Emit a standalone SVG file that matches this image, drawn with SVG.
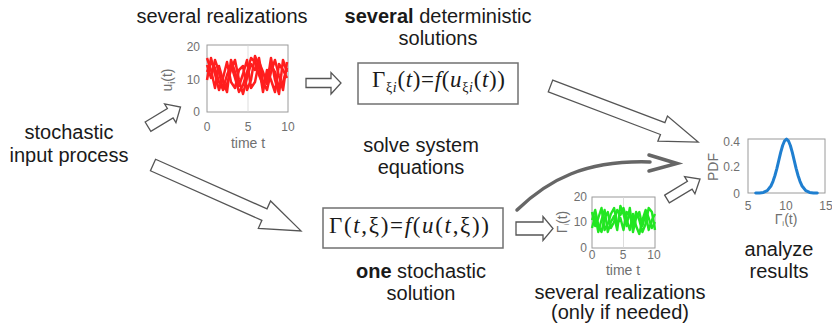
<svg xmlns="http://www.w3.org/2000/svg" width="832" height="324" viewBox="0 0 832 324">
<style>
.lbl{font-family:"Liberation Sans",Arial,sans-serif;font-size:20px;fill:#1a1a1a;text-anchor:middle}
.math{font-family:"Liberation Serif","Times New Roman",serif;font-size:23px;fill:#1a1a1a}
.it{font-style:italic}
.sub{font-size:14px}
.box{fill:#fff;stroke:#707070;stroke-width:1.5}
.blk{fill:#fff;stroke:#555;stroke-width:1.3;stroke-linejoin:miter}
.frame{fill:#fff;stroke:#9a9a9a;stroke-width:1}
.grid{stroke:#d4d4d4;stroke-width:0.8}
.tick{font-family:"Liberation Sans",Arial,sans-serif;font-size:12px;fill:#707070}
.tk{text-anchor:middle}
.te{text-anchor:end}
.axl{font-family:"Liberation Sans",Arial,sans-serif;font-size:14px;fill:#707070;text-anchor:middle}
.red{fill:none;stroke:#ff1e1e;stroke-width:2.5;stroke-linejoin:round}
.green{fill:none;stroke:#22e622;stroke-width:2.4;stroke-linejoin:round}
.blue{fill:none;stroke:#1f7fd0;stroke-width:3;stroke-linejoin:round;stroke-linecap:round}
.curve{fill:none;stroke:#666;stroke-width:3.5;stroke-linecap:round;stroke-linejoin:miter}
</style>

<g id="label-several-realizations">
<text class="lbl" x="222" y="23">several realizations</text>
</g>

<g id="label-deterministic">
<text class="lbl" x="438" y="23"><tspan font-weight="bold">several</tspan> deterministic</text>
<text class="lbl" x="438" y="45">solutions</text>
</g>

<g id="node-input">
<text class="lbl" x="69" y="139">stochastic</text>
<text class="lbl" x="69" y="162">input process</text>
</g>

<g id="label-solve">
<text class="lbl" x="421" y="152">solve system</text>
<text class="lbl" x="421" y="174">equations</text>
</g>

<g id="label-one">
<text class="lbl" x="421" y="278"><tspan font-weight="bold">one</tspan> stochastic</text>
<text class="lbl" x="421" y="300">solution</text>
</g>

<g id="label-realizations-needed">
<text class="lbl" x="620" y="299">several realizations</text>
<text class="lbl" x="620" y="319">(only if needed)</text>
</g>

<g id="node-analyze">
<text class="lbl" x="779" y="256">analyze</text>
<text class="lbl" x="779" y="278">results</text>
</g>

<g id="node-plot-input">
<rect class="frame" x="207" y="45" width="81" height="67"/>
<line class="grid" x1="248" y1="45" x2="248" y2="112"/>
<polyline class="red" points="207,72 211,62 215,68 219,82 223,89 227,75 231,65 235,78 239,92 243,85 247,72 251,58 255,62 259,75 263,85 267,78 271,65 275,72 279,88 283,82 287,68"/>
<polyline class="red" points="207,65 211,78 215,60 219,72 223,90 227,84 231,70 235,60 239,80 243,94 247,78 251,64 255,70 259,58 263,82 267,90 271,72 275,60 279,76 283,90 287,62"/>
<polyline class="red" points="207,80 211,58 215,74 219,90 223,78 227,62 231,82 235,88 239,70 243,66 247,90 251,80 255,56 259,66 263,92 267,70 271,80 275,92 279,64 283,70 287,78"/>
<polyline class="red" points="207,58 211,70 215,88 219,66 223,80 227,92 231,60 235,72 239,86 243,74 247,60 251,88 255,82 259,62 263,72 267,84 271,58 275,80 279,94 283,60 287,72"/>
<text class="tick te" x="200" y="51">20</text>
<text class="tick te" x="200" y="84">10</text>
<text class="tick te" x="200" y="116">0</text>
<text class="tick tk" x="207" y="131">0</text>
<text class="tick tk" x="248" y="131">5</text>
<text class="tick tk" x="288" y="131">10</text>
<text class="axl" x="248" y="148">time t</text>
<text class="axl" transform="translate(172,80) rotate(-90)">u<tspan font-size="9" dy="3">i</tspan><tspan dy="-3">(t)</tspan></text>
</g>

<g id="node-deterministic">
<rect class="box" x="358" y="63" width="160" height="41"/>
<text class="math" x="372" y="87" textLength="133" lengthAdjust="spacing">Γ<tspan class="sub" dy="5">ξ</tspan><tspan class="sub it">i</tspan><tspan dy="-5">(</tspan><tspan class="it">t</tspan>)=<tspan class="it">f</tspan>(<tspan class="it">u</tspan><tspan class="sub" dy="5">ξ</tspan><tspan class="sub it">i</tspan><tspan dy="-5">(</tspan><tspan class="it">t</tspan>))</text>
</g>

<g id="node-stochastic">
<rect class="box" x="323" y="208" width="180" height="40"/>
<text class="math" x="329" y="233" textLength="160" lengthAdjust="spacing">Γ(<tspan class="it">t</tspan>,ξ)=<tspan class="it">f</tspan>(<tspan class="it">u</tspan>(<tspan class="it">t</tspan>,ξ))</text>
</g>

<g id="node-plot-output">
<rect class="frame" x="592" y="197" width="63" height="51"/>
<line class="grid" x1="623.5" y1="197" x2="623.5" y2="248"/>
<polyline class="green" points="592,220 595.2,210 598.3,225 601.5,232 604.6,218 607.8,212 610.9,228 614.1,222 617.2,210 620.4,215 623.5,208 626.7,220 629.8,230 633,214 636.1,226 639.3,234 642.4,220 645.6,210 648.7,218 651.9,228 655,222"/>
<polyline class="green" points="592,212 595.2,226 598.3,218 601.5,208 604.6,230 607.8,224 610.9,214 614.1,208 617.2,224 620.4,218 623.5,230 626.7,212 629.8,216 633,226 636.1,212 639.3,220 642.4,232 645.6,224 648.7,208 651.9,212 655,230"/>
<polyline class="green" points="592,228 595.2,216 598.3,232 601.5,220 604.6,210 607.8,232 610.9,222 614.1,216 617.2,230 620.4,206 623.5,214 626.7,226 629.8,208 633,232 636.1,218 639.3,212 642.4,226 645.6,214 648.7,230 651.9,220 655,214"/>
<text class="tick te" x="587" y="201" font-size="10">20</text>
<text class="tick te" x="587" y="226" font-size="10">10</text>
<text class="tick te" x="587" y="252" font-size="10">0</text>
<text class="tick tk" x="592" y="259" font-size="10">0</text>
<text class="tick tk" x="623" y="259" font-size="10">5</text>
<text class="tick tk" x="654" y="259" font-size="10">10</text>
<text class="axl" x="623" y="275" font-size="10.5">time t</text>
<text class="axl" font-size="10" transform="translate(567,222) rotate(-90)">Γ<tspan font-size="7" dy="2">i</tspan><tspan dy="-2">(t)</tspan></text>
</g>

<g id="node-plot-pdf">
<rect class="frame" x="748" y="139" width="77" height="54"/>
<polyline class="blue" points="755.7,193 759.55,192.9 763.4,192.4 767.25,190.6 771.1,185.7 773,181.3 774.95,175.5 776.9,168.3 778.8,160.3 780.7,152.4 782.65,145.5 784.6,140.8 786.5,139.1 788.4,140.8 790.35,145.5 792.3,152.4 794.2,160.3 796.1,168.3 798.05,175.5 800,181.3 801.9,185.7 805.75,190.6 809.6,192.4 813.45,192.9 817.3,193"/>
<text class="tick te" x="740" y="146" font-size="11">0.4</text>
<text class="tick te" x="740" y="171" font-size="11">0.2</text>
<text class="tick te" x="740" y="198" font-size="11">0</text>
<text class="tick tk" x="748" y="210" font-size="11">5</text>
<text class="tick tk" x="786" y="210" font-size="11">10</text>
<text class="tick tk" x="826" y="210" font-size="11">15</text>
<text class="axl" x="786" y="224" font-size="12">Γ<tspan font-size="8" dy="2">i</tspan><tspan dy="-2">(t)</tspan></text>
<text class="axl" font-size="13" transform="translate(718,167) rotate(-90)">PDF</text>
</g>

<g id="connectors">
<path class="blk" transform="translate(148,126.7) rotate(-31.2)" d="M0,-5.5 L26,-5.5 L26,-11 L38,0 L26,11 L26,5.5 L0,5.5 Z"/>
<path class="blk" transform="translate(153,165) rotate(24)" d="M0,-6.3 L122,-6.3 L122,-15 L162,0 L122,15 L122,6.3 L0,6.3 Z"/>
<path class="blk" d="M306,78.5 L331,78.5 L331,72.5 L341,83 L331,94 L331,87.5 L306,87.5 Z"/>
<path class="blk" transform="translate(550.5,86) rotate(20.8)" d="M0,-6.3 L120,-6.3 L120,-13.5 L158,0 L120,13.5 L120,6.3 L0,6.3 Z"/>
<path class="blk" d="M516,222 L543,222 L543,216.5 L553,228.5 L543,240.5 L543,235 L516,235 Z"/>
<path class="blk" transform="translate(667,199) rotate(-31.2)" d="M0,-4.5 L26.6,-4.5 L26.6,-10 L38.6,0 L26.6,10 L26.6,4.5 L0,4.5 Z"/>
<path class="curve" d="M517,210 C548,180 585,160 650,162"/>
<polyline class="curve" points="649,155 677,163.5 649,171"/>
</g>
</svg>
